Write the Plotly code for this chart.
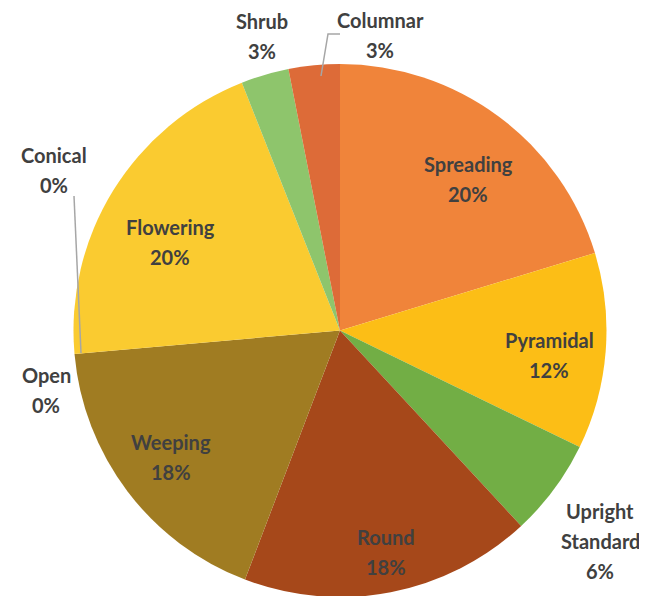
import plotly.graph_objects as go

labels = ["Spreading", "Pyramidal", "Upright<br>Standard", "Round", "Weeping",
          "Open", "Flowering", "Conical", "Shrub", "Columnar"]
values = [20.3, 11.9, 5.9, 17.7, 17.8, 0, 20.4, 0, 2.9, 3.1]
colors = ["#F0843A", "#FCBE16", "#72AE45", "#A6481A", "#A07C22",
          "#D8A020", "#FACB30", "#F0C040", "#8EC56C", "#DD6B38"]

W, H = 647, 596
# label block centres in pixels (Excel-style data label placement)
label_xy = [(460, 180), (541, 356), (592, 542), (378, 553), (163, 458),
            (38, 391), (162, 243), (46, 171), (254, 37), (372, 36)]

total = sum(values)

fig = go.Figure(go.Pie(
    labels=labels,
    values=values,
    sort=False,
    direction="clockwise",
    rotation=0,
    marker=dict(colors=colors, line=dict(width=0)),
    textinfo="none",
    hoverinfo="label+percent",
    showlegend=False,
    automargin=False,
    domain=dict(x=[0.1004, 0.9258], y=[0.0117, 0.906]),
))

font = dict(family="Lato", size=20, color="#404040", weight="bold")
gap = 30
for lab, v, (px, py) in zip(labels, values, label_xy):
    lines = lab.split("<br>") + [f"{round(v / total * 100)}%"]
    top = py - 9 - gap * (len(lines) - 1) / 2
    for i, t in enumerate(lines):
        fig.add_annotation(
            x=px / W, y=1 - (top + i * gap) / H, xref="paper", yref="paper",
            text=t, showarrow=False, font=font,
            xanchor="center", yanchor="middle",
        )

# leader lines
line = dict(color="#A6A6A6", width=1.5)
fig.add_shape(type="line", xref="paper", yref="paper",
              x0=66 / W, y0=1 - 188 / H, x1=73 / W, y1=1 - 345 / H, line=line)
fig.add_shape(type="path", xref="paper", yref="paper",
              path=f"M {332 / W} {1 - 26 / H} L {320 / W} {1 - 26 / H} L {313 / W} {1 - 68 / H}",
              line=line)

fig.update_layout(
    width=W, height=H,
    margin=dict(l=0, r=0, t=0, b=0),
    paper_bgcolor="white",
)

fig.write_html("out.html")
